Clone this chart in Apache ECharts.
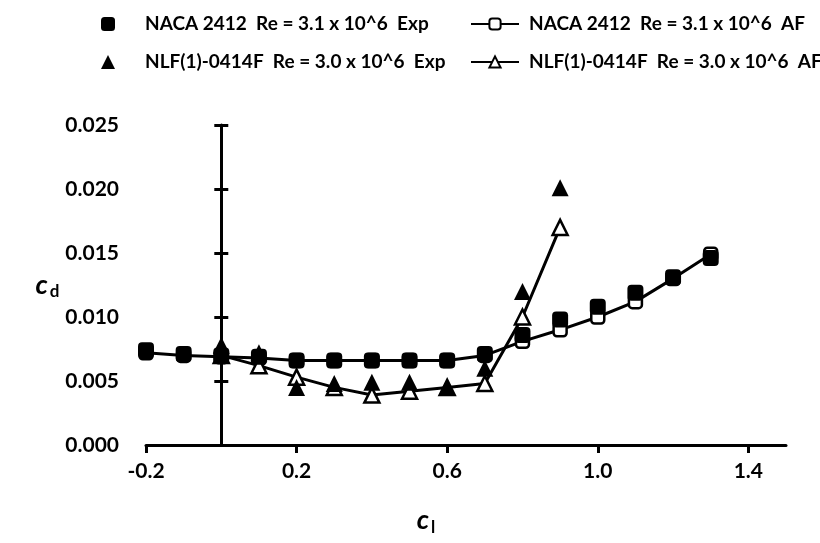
<!DOCTYPE html>
<html>
<head>
    <meta charset="UTF-8">
    <script src="https://cdn.jsdelivr.net/npm/echarts@6/dist/echarts.min.js"></script>
</head>
<body style="margin:0;background:#fff;">
    <div id="main" style="width:820px;height:543px"></div>
    <script type="text/javascript">
        // cl values (x) and cd values (y)
        var nacaX = [-0.2, -0.1, 0, 0.1, 0.2, 0.3, 0.4, 0.5, 0.6, 0.7, 0.8, 0.9, 1.0, 1.1, 1.2, 1.3];
        var nacaExp = [0.0074, 0.0071, 0.0070, 0.0069, 0.0066, 0.0066, 0.0066, 0.0066, 0.0066, 0.0071, 0.0086, 0.0098, 0.0108, 0.0119, 0.0131, 0.0146];
        var nacaAf = [0.0072, 0.0070, 0.0069, 0.0068, 0.0066, 0.0066, 0.0066, 0.0066, 0.0066, 0.0070, 0.0081, 0.0090, 0.0100, 0.0112, 0.0130, 0.0149];
        var nlfX = [0, 0.1, 0.2, 0.3, 0.4, 0.5, 0.6, 0.7, 0.8, 0.9];
        var nlfExp = [0.0078, 0.0072, 0.0045, 0.0048, 0.0049, 0.0049, 0.0045, 0.0060, 0.0120, 0.0201];
        var nlfAf = [0.0070, 0.0062, 0.0053, 0.0045, 0.0039, 0.0042, 0.0045, 0.0048, 0.0100, 0.0170];
        var xTicks = [-0.2, 0.2, 0.6, 1.0, 1.4];
        var names = ['NACA 2412  Re = 3.1 x 10^6  Exp', 'NACA 2412  Re = 3.1 x 10^6  AF',
                     'NLF(1)-0414F  Re = 3.0 x 10^6  Exp', 'NLF(1)-0414F  Re = 3.0 x 10^6  AF'];

        function pairs(xs, ys) {
            return xs.map(function (x, i) { return [x, ys[i]]; });
        }

        var font = 'Lato';
        var legendText = { color: '#000', fontFamily: font, fontWeight: 'bold', fontSize: 19, lineHeight: 20 };
        var titleRich = {
            c: { fontFamily: font, fontStyle: 'italic', fontWeight: 'bold', fontSize: 27, color: '#000' },
            s: { fontFamily: font, fontWeight: 'bold', fontSize: 17, color: '#000', padding: [14, 0, 0, 2] }
        };
        // y axis drawn through cl = 0, ticks crossing the line
        function zeroAxis(xIndex, inside, showLine) {
            return {
                type: 'value', min: 0, max: 0.025, interval: 0.005, position: 'left',
                axisLine: { show: showLine, onZero: true, onZeroAxisIndex: xIndex, lineStyle: { color: '#000', width: 3 } },
                axisTick: { show: true, inside: inside, length: 7, lineStyle: { color: '#000', width: 3 } },
                axisLabel: { show: false },
                splitLine: { show: false }
            };
        }

        var myChart = echarts.init(document.getElementById('main'));
        var option = {
            animation: false,
            legend: [
                {
                    orient: 'vertical', left: 96, top: 9, itemGap: 18,
                    itemWidth: 14, itemHeight: 14,
                    data: [names[0], names[2]],
                    textStyle: Object.assign({ padding: [0, 0, 0, 25] }, legendText)
                },
                {
                    orient: 'vertical', left: 465, top: 9, itemGap: 18,
                    itemWidth: 48, itemHeight: 14,
                    data: [names[1], names[3]],
                    textStyle: Object.assign({ padding: [0, 0, 0, 5] }, legendText)
                }
            ],
            grid: { left: 146, right: 34, top: 125, bottom: 98 },
            xAxis: [
                {
                    type: 'value', min: -0.2, max: 1.5,
                    name: '{c|c}{s|l}', nameLocation: 'middle', nameGap: 60,
                    nameTextStyle: { padding: [0, 80, 0, 0], rich: titleRich },
                    axisLine: { onZero: false, lineStyle: { color: '#000', width: 3 } },
                    axisTick: { length: 8, lineStyle: { color: '#000', width: 3 }, customValues: xTicks },
                    axisLabel: {
                        customValues: xTicks, margin: 16,
                        color: '#000', fontFamily: font, fontWeight: 'bold', fontSize: 21,
                        formatter: function (v) { return v.toFixed(1); }
                    },
                    splitLine: { show: false }
                },
                { type: 'value', min: -0.2, max: 1.5, show: false }
            ],
            yAxis: [
                {
                    type: 'value', min: 0, max: 0.025, interval: 0.005, position: 'left',
                    name: '{c|c}{s|d}', nameLocation: 'middle', nameRotate: 0, nameGap: 84,
                    nameTextStyle: { rich: titleRich },
                    axisLine: { show: false, onZero: false },
                    axisTick: { show: false },
                    axisLabel: {
                        margin: 27, color: '#000', fontFamily: font, fontWeight: 'bold', fontSize: 21,
                        formatter: function (v) { return v.toFixed(3); }
                    },
                    splitLine: { show: false }
                },
                zeroAxis(0, false, true),
                zeroAxis(1, true, false)
            ],
            series: [
                {
                    name: names[1], type: 'line', symbol: 'roundRect', symbolSize: 13, showAllSymbol: true,
                    lineStyle: { color: '#000', width: 3 },
                    itemStyle: { color: '#fff', borderColor: '#000', borderWidth: 2.5 },
                    data: pairs(nacaX, nacaAf)
                },
                {
                    name: names[3], type: 'line', symbol: 'triangle', symbolSize: 15, showAllSymbol: true,
                    lineStyle: { color: '#000', width: 3 },
                    itemStyle: { color: '#fff', borderColor: '#000', borderWidth: 2.5 },
                    data: pairs(nlfX, nlfAf)
                },
                {
                    name: names[0], type: 'scatter', symbol: 'roundRect', symbolSize: 16, z: 3,
                    itemStyle: { color: '#000', opacity: 1 },
                    data: pairs(nacaX, nacaExp)
                },
                {
                    name: names[2], type: 'scatter', symbol: 'triangle', symbolSize: 17, z: 3,
                    itemStyle: { color: '#000', opacity: 1 },
                    data: pairs(nlfX, nlfExp)
                }
            ]
        };
        myChart.setOption(option);
    </script>
</body>
</html>
